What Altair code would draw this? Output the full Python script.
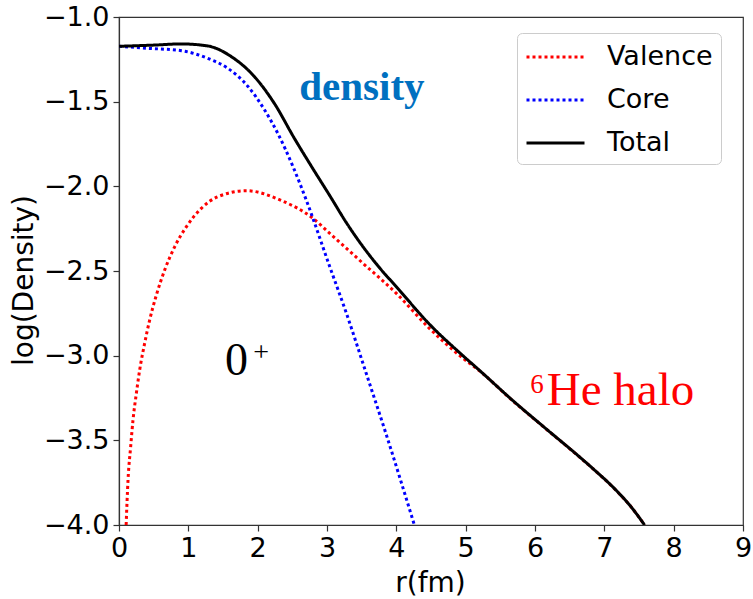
import altair as alt
import pandas as pd

# Radial density profiles (log10 scale) of the 6He ground state
r_total = [0.0, 0.5, 0.9, 1.28, 1.62, 1.955, 2.24, 2.53, 2.78, 3.04, 3.28, 3.52, 3.76,
           4.0, 4.48, 4.96, 5.2, 5.68, 6.16, 6.64, 6.83, 7.17, 7.4, 7.58]
v_total = [-1.173, -1.166, -1.159, -1.171, -1.234, -1.353, -1.51, -1.717, -1.885, -2.055,
           -2.215, -2.357, -2.482, -2.593, -2.815, -3.0, -3.087, -3.265, -3.432, -3.597,
           -3.665, -3.795, -3.90, -4.0]

r_core = [0.0, 0.42, 0.9, 1.28, 1.57, 1.86, 2.1, 2.29, 2.51, 2.70, 3.04, 3.28, 3.57,
          3.85, 4.26]
v_core = [-1.173, -1.185, -1.199, -1.244, -1.303, -1.41, -1.549, -1.687, -1.884, -2.08,
          -2.475, -2.75, -3.11, -3.46, -4.0]

r_val = [0.103, 0.13, 0.168, 0.202, 0.25, 0.298, 0.37, 0.442, 0.539, 0.659, 0.803, 0.971,
         1.187, 1.427, 1.84, 2.32, 2.80, 3.04, 3.52, 4.0, 4.48, 4.96, 5.2, 5.68, 6.16,
         6.64, 6.83, 7.17, 7.4, 7.58]
v_val = [-4.0, -3.735, -3.538, -3.38, -3.223, -3.085, -2.927, -2.79, -2.642, -2.494,
         -2.357, -2.239, -2.13, -2.061, -2.026, -2.08, -2.19, -2.278, -2.455, -2.632,
         -2.84, -3.015, -3.09, -3.267, -3.433, -3.598, -3.666, -3.796, -3.90, -4.0]

series_names = ["Valence", "Core", "Total"]
series_colors = ["#ff0000", "#0000ff", "#000000"]
series_dash = [[3, 3], [3, 3], [1, 0]]

x_ticks = list(range(0, 10))
y_ticks = [-4.0, -3.5, -3.0, -2.5, -2.0, -1.5, -1.0]

rows = []
for name, rs, vs in [("Valence", r_val, v_val), ("Core", r_core, v_core), ("Total", r_total, v_total)]:
    for i, (r, v) in enumerate(zip(rs, vs)):
        rows.append({"r": r, "v": v, "series": name, "order": i})
df = pd.DataFrame(rows)

x_scale = alt.Scale(domain=[0, 9], nice=False, zero=False)
y_scale = alt.Scale(domain=[-4.0, -1.0], nice=False, zero=False)

x_axis = alt.Axis(values=x_ticks, format="d", labelFlush=False, title="r(fm)",
                  titleX=311, titleY=66, titleBaseline="alphabetic", titleAlign="center")
y_axis = alt.Axis(values=y_ticks, format=".1f", labelFlush=False, title="log(Density)",
                  titleX=-87, titleY=263, titleBaseline="alphabetic", titleAlign="center",
                  titleAngle=270)

lines = alt.Chart(df).mark_line(strokeWidth=3, clip=True, interpolate="monotone").encode(
    x=alt.X("r:Q", scale=x_scale, axis=x_axis),
    y=alt.Y("v:Q", scale=y_scale, axis=y_axis),
    color=alt.Color("series:N", scale=alt.Scale(domain=series_names, range=series_colors),
                    legend=alt.Legend(title=None)),
    strokeDash=alt.StrokeDash("series:N", scale=alt.Scale(domain=series_names, range=series_dash),
                              legend=alt.Legend(title=None)),
    order="order:Q",
)


def label(r, v, text, **style):
    """A single text annotation placed in data coordinates."""
    src = pd.DataFrame({"r": [r], "v": [v], "t": [text]})
    return alt.Chart(src).mark_text(align="left", baseline="alphabetic", **style).encode(
        x=alt.X("r:Q", scale=x_scale, axis=x_axis),
        y=alt.Y("v:Q", scale=y_scale, axis=y_axis),
        text="t:N",
    )


density_lbl = label(2.60, -1.49, "density", font="Liberation Serif", fontSize=41,
                    fontWeight="bold", color="#0070c0")
state_lbl = label(1.53, -3.115, "0", font="Liberation Serif", fontSize=46, color="black")
state_sup = label(1.935, -3.03, "+", font="Liberation Serif", fontSize=28, color="black")
halo_sup = label(5.93, -3.221, "6", font="Liberation Serif", fontSize=27, color="#ff0000")
halo_lbl = label(6.17, -3.292, "He halo", font="Liberation Serif", fontSize=47, color="#ff0000")

chart = alt.layer(lines, density_lbl, state_lbl, state_sup, halo_sup, halo_lbl).properties(
    width=624, height=508,
    autosize=alt.AutoSizeParams(type="none"),
    padding={"left": 119, "top": 17, "right": 10, "bottom": 74},
).configure_view(
    stroke="#333333", strokeWidth=1.2
).configure_axis(
    labelFont="DejaVu Sans", labelFontSize=27, labelColor="black",
    titleFont="DejaVu Sans", titleFontSize=28, titleFontWeight="normal", titleColor="black",
    tickSize=6, tickColor="#333333", tickWidth=1.2, domainColor="#333333", domainWidth=1.2,
    labelPadding=4, grid=False,
).configure_legend(
    orient="none", legendX=398, legendY=16,
    symbolType="M-1,0H3", symbolSize=841, symbolStrokeWidth=3,
    labelFont="DejaVu Sans", labelFontSize=27, labelColor="black", labelOffset=50,
    padding=8, rowPadding=14, strokeColor="#cccccc", cornerRadius=5, fillColor="white",
)

chart.save("out.html", embed_options={"renderer": "svg", "actions": False})
